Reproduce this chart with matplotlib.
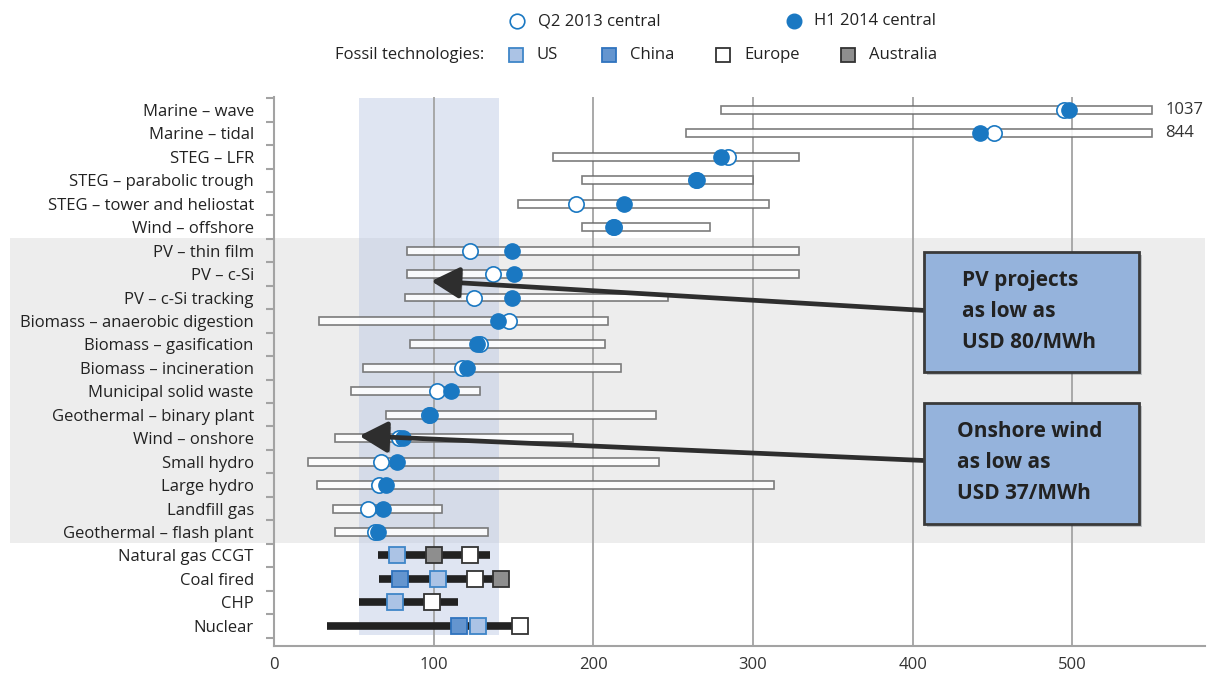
import matplotlib
matplotlib.use('Agg')
from matplotlib import pyplot as plt
from matplotlib.lines import Line2D
from matplotlib.patches import Rectangle, FancyBboxPatch
from matplotlib.transforms import blended_transform_factory
import matplotlib.patheffects as pe
import numpy as np

plt.rcParams['font.family'] = ['Open Sans', 'DejaVu Sans']

# renewable technologies (range bar + central estimates)
techs = ['Marine \u2013 wave', 'Marine \u2013 tidal', 'STEG \u2013 LFR', 'STEG \u2013 parabolic trough',
         'STEG \u2013 tower and heliostat', 'Wind \u2013 offshore', 'PV \u2013 thin film', 'PV \u2013 c-Si',
         'PV \u2013 c-Si tracking', 'Biomass \u2013 anaerobic digestion', 'Biomass \u2013 gasification',
         'Biomass \u2013 incineration', 'Municipal solid waste', 'Geothermal \u2013 binary plant',
         'Wind \u2013 onshore', 'Small hydro', 'Large hydro', 'Landfill gas', 'Geothermal \u2013 flash plant']
low = [280, 258, 175, 193, 153, 193, 83, 83, 82, 28, 85, 56, 48, 70, 38, 21, 27, 37, 38]
high = [1037, 844, 329, 300, 310, 273, 329, 329, 247, 209, 207, 217, 129, 239, 187, 241, 313, 105, 134]
q2_2013 = [495, 451, 284, 264, 189, 213, 123, 137, 125, 147, 129, 118, 102, 97, 78, 67, 66, 59, 63]
h1_2014 = [498, 442, 280, 265, 219, 212, 149, 150, 149, 140, 127, 121, 111, 98, 81, 77, 70, 68, 65]

# fossil technologies
fossil = ['Natural gas CCGT', 'Coal fired', 'CHP', 'Nuclear']
fossil_low = [65, 66, 53, 33]
fossil_high = [135, 147, 115, 154]
us = [77, 103, 76, 128]
china = [None, 79, None, 116]
europe = [123, 126, 99, 154]
australia = [100, 142, None, None]

xmax_shown = 550
band = (53, 141)

labels = techs + fossil
n = len(labels)
rows = np.arange(n)

W, H = 1208, 673
fig = plt.figure(figsize=(W / 100, H / 100), dpi=100)
ax = fig.add_axes([274 / W, 1 - 646 / H, (1205 - 274) / W, (646 - 97) / H])
ax.set_xlim(0, 583)
ax.set_ylim(n - 0.14, -0.55)

# grey band behind PV ... geothermal flash (extends into the label area)
btr = blended_transform_factory(ax.transAxes, ax.transData)
ax.add_patch(Rectangle((-0.284, 5.46), 1.284, 13.0, transform=btr, facecolor='#EDEDED',
                       edgecolor='none', clip_on=False, zorder=0))
# blue band
ax.add_patch(Rectangle((band[0], -0.5), band[1] - band[0], n - 0.1, facecolor='#B8C7E4',
                       alpha=0.45, edgecolor='none', zorder=1))

for gx in [100, 200, 300, 400, 500]:
    ax.axvline(gx, color='#A3A3A3', lw=1.3, zorder=2)

blue = '#1A78C2'
for i in range(len(techs)):
    hi = min(high[i], xmax_shown)
    ax.add_patch(Rectangle((low[i], i - 0.17), hi - low[i], 0.34, facecolor='white', alpha=0.88,
                           edgecolor='#6A6A6A', lw=1.2, zorder=3))
    if high[i] > xmax_shown:
        ax.text(xmax_shown + 8, i, str(high[i]), va='center', ha='left', fontsize=12, color='#333333')
ax.plot(q2_2013, rows[:len(techs)], 'o', ms=11, mfc='white', mec=blue, mew=1.2, ls='none', zorder=4)
ax.plot(h1_2014, rows[:len(techs)], 'o', ms=11, mfc=blue, mec=blue, mew=1.0, ls='none', zorder=5)

sq = dict(ms=11, ls='none', zorder=6, marker='s')
us_style = dict(mfc='#ABC3E5', mec='#3F86C8', mew=1.3)
china_style = dict(mfc='#6495CF', mec='#2F73BE', mew=1.3)
europe_style = dict(mfc='white', mec='#333333', mew=1.3)
aus_style = dict(mfc='#8E8E8E', mec='#333333', mew=1.3)
for j in range(len(fossil)):
    y = len(techs) + j
    ax.hlines(y, fossil_low[j], fossil_high[j], color='#222222', lw=5.5, zorder=5)
    for vals, st in [(china, china_style), (us, us_style), (europe, europe_style), (australia, aus_style)]:
        if vals[j] is not None:
            ax.plot([vals[j]], [y], **sq, **st)

# axes styling
for s in ['top', 'right']:
    ax.spines[s].set_visible(False)
for s in ['left', 'bottom']:
    ax.spines[s].set_color('#A3A3A3')
    ax.spines[s].set_linewidth(1.5)
ax.set_yticks(rows)
ax.set_yticklabels(labels, fontsize=12, color='#222222')
ax.tick_params(axis='y', which='major', length=0, pad=14.5)
ax.set_yticks(np.arange(n + 1) - 0.5, minor=True)
ax.tick_params(axis='y', which='minor', length=6, width=1.5, color='#A3A3A3')
ax.set_xticks([0, 100, 200, 300, 400, 500])
ax.tick_params(axis='x', length=0, pad=8, labelsize=12, labelcolor='#333333')

# callouts
box_style = dict(boxstyle='square,pad=0', facecolor='#95B3DC', edgecolor='#3A3A3A', lw=2, zorder=8,
                 path_effects=[pe.withSimplePatchShadow(offset=(2.5, -2.5), alpha=0.25)])
ax.add_patch(FancyBboxPatch((407, 6.06), 134.4, 5.11, **box_style))
ax.add_patch(FancyBboxPatch((407, 12.49), 134.4, 5.16, **box_style))
ax.text(431, 8.6, 'PV projects\nas low as\nUSD 80/MWh', fontsize=15, fontweight='bold', color='#222222',
        va='center', ha='left', linespacing=1.62, zorder=9)
ax.text(428, 15.05, 'Onshore wind\nas low as\nUSD 37/MWh', fontsize=15, fontweight='bold', color='#222222',
        va='center', ha='left', linespacing=1.62, zorder=9)
arrow = dict(arrowstyle='-|>,head_length=1.7,head_width=0.95', color='#2E2E2E', lw=3.4,
             shrinkA=0, shrinkB=0, path_effects=[pe.withSimplePatchShadow(offset=(2, -2), alpha=0.25)])
ax.annotate('', xy=(98.5, 7.3), xytext=(407, 8.55), arrowprops=arrow, zorder=7)
ax.annotate('', xy=(53.5, 13.9), xytext=(407, 14.95), arrowprops=arrow, zorder=7)

# legend
def fx(x):
    return x / W

def fy(y):
    return 1 - y / H

fig.add_artist(Line2D([fx(517)], [fy(21)], marker='o', ms=10.5, mfc='white', mec=blue, mew=1.2, ls='none'))
fig.text(fx(538), fy(21), 'Q2 2013 central', fontsize=12, va='center', color='#222222')
fig.add_artist(Line2D([fx(794)], [fy(21)], marker='o', ms=10.5, mfc=blue, mec=blue, ls='none'))
fig.text(fx(814), fy(21), 'H1 2014 central', fontsize=12, va='center', color='#222222')
fig.text(fx(484), fy(55), 'Fossil technologies:', fontsize=12, va='center', ha='right', color='#222222')
for x0, name, st in [(516, 'US', us_style), (609, 'China', china_style), (723, 'Europe', europe_style),
                     (848, 'Australia', aus_style)]:
    fig.add_artist(Line2D([fx(x0)], [fy(55)], marker='s', ms=10.5, ls='none', **st))
    fig.text(fx(x0 + 21), fy(55), name, fontsize=12, va='center', color='#222222')

fig.savefig('out.png', dpi=100)
